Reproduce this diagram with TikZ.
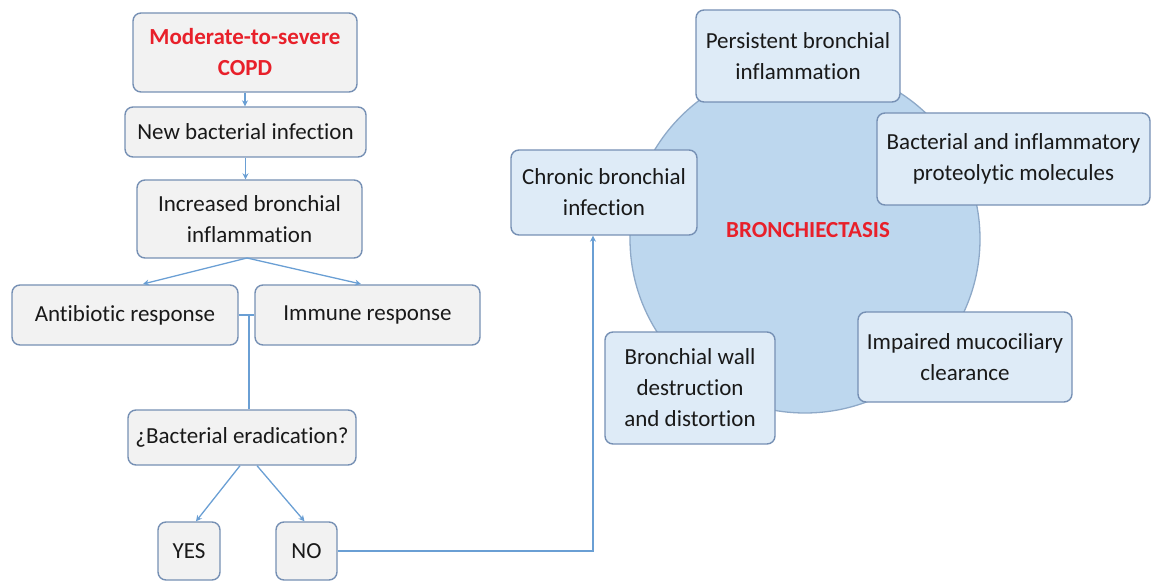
\documentclass[tikz,border=0pt]{standalone}
\usepackage{fontspec}
\setmainfont{Carlito}[Ligatures=NoCommon]
\usetikzlibrary{arrows.meta,shapes.geometric}
\definecolor{boxline}{HTML}{7690B4}
\definecolor{grayfill}{HTML}{F2F2F2}
\definecolor{bluefill}{HTML}{DEEBF7}
\definecolor{circfill}{HTML}{BDD7EE}
\definecolor{circline}{HTML}{8EA9C8}
\definecolor{arrowc}{HTML}{6A9FD4}
\definecolor{redtxt}{HTML}{E8202A}
\tikzset{
  box/.style={draw=boxline, line width=1.4pt, rounded corners=8pt, align=center, inner sep=0pt,
     font=\fontsize{23}{31}\selectfont, text=black!90},
  graybox/.style={box, fill=grayfill},
  bluebox/.style={box, fill=bluefill},
  arr/.style={draw=arrowc, line width=1.3pt, -{Stealth[length=6pt,width=6pt]}},
  ln/.style={draw=arrowc, line width=1.3pt},
}
\begin{document}
\begin{tikzpicture}[x=1pt,y=-1pt]
\useasboundingbox (0,0) rectangle (1156,585);
% left flow
\node[graybox, minimum width=224, minimum height=79, text=redtxt, font=\fontsize{23}{31}\selectfont\bfseries] (copd) at (245,52.5) {Moderate-to-severe\\COPD};
\node[graybox, minimum width=241, minimum height=50] (newinf) at (245.5,132) {New bacterial infection};
\node[graybox, minimum width=225, minimum height=78] (incr) at (249.5,219) {Increased bronchial\\inflammation};
\node[graybox, minimum width=226, minimum height=60] (anti) at (125,315) {Antibiotic response};
\node[graybox, minimum width=225, minimum height=60] (imm) at (367.5,315) {Immune response};
\node[graybox, minimum width=228, minimum height=55] (erad) at (242,437.5) {¿Bacterial eradication?};
\node[graybox, minimum width=62, minimum height=58] (yes) at (189,551) {YES};
\node[graybox, minimum width=61, minimum height=58] (no) at (306.5,551) {NO};
\draw[arr] (copd.south) -- (copd.south |- newinf.north);
\draw[arr] (newinf.south) -- (newinf.south |- incr.north);
\coordinate (split) at (247,258);
\draw[arr] (split) -- (143,284);
\draw[arr] (split) -- (361,284);
\draw[ln] (anti.east) -- (imm.west);
\coordinate (join) at (249,315);
\draw[ln] (join) -- (join |- erad.north);
\draw[arr] ([xshift=-2pt]erad.south) -- ([xshift=7pt]yes.north);
\draw[arr] ([xshift=15pt]erad.south) -- ([xshift=-2pt]no.north);
% right cycle
\node[ellipse, fill=circfill, draw=circline, line width=1.3pt, minimum width=350, minimum height=348, inner sep=0pt] (circ) at (805,239) {};
\node[font=\fontsize{23}{26}\selectfont\bfseries, text=redtxt] (bx) at (808,230) {BRONCHIECTASIS};
\node[bluebox, minimum width=186, minimum height=85] (chronic) at (604,192.5) {Chronic bronchial\\infection};
\node[bluebox, minimum width=204, minimum height=92] (persist) at (798,56) {Persistent bronchial\\inflammation};
\node[bluebox, minimum width=273, minimum height=92] (molec) at (1013.5,159) {Bacterial and inflammatory\\proteolytic molecules};
\node[bluebox, minimum width=214, minimum height=90] (impair) at (965,357) {Impaired mucociliary\\clearance};
\node[bluebox, minimum width=170, minimum height=112] (wall) at (690,388) {Bronchial wall\\destruction\\and distortion};
\draw[arr] (no.east) -| ([xshift=-11pt]chronic.south);
\end{tikzpicture}
\end{document}
